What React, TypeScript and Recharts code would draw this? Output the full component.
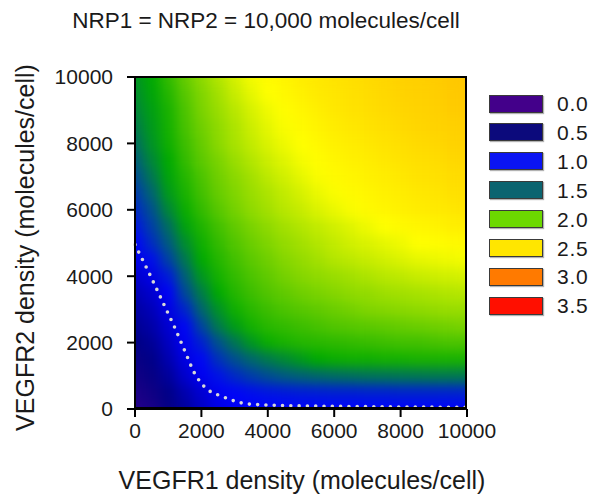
import React from 'react';
import { ScatterChart, Scatter, XAxis, YAxis } from 'recharts';

const chartTitle = 'NRP1 = NRP2 = 10,000 molecules/cell';
const xTitle = 'VEGFR1 density (molecules/cell)';
const yTitle = 'VEGFR2 density (molecules/cell)';

const axisTicks = [0, 2000, 4000, 6000, 8000, 10000];

// grid of the heat map (VEGFR1 on x, VEGFR2 on y)
const gridX = [0, 500, 1000, 1500, 2000, 2500, 3000, 3500, 4000, 4500, 5000, 5500, 6000, 6500, 7000, 7500, 8000, 8500, 9000, 9500, 10000];
const gridY = [10000, 9500, 9000, 8500, 8000, 7500, 7000, 6500, 6000, 5500, 5000, 4500, 4000, 3500, 3000, 2500, 2000, 1500, 1000, 500, 0];

// one row per gridY value
const heatValues = [
  [1.85, 2.0, 2.1, 2.2, 2.28, 2.35, 2.42, 2.48, 2.52, 2.55, 2.58, 2.6, 2.62, 2.64, 2.66, 2.68, 2.7, 2.71, 2.72, 2.74, 2.75],
  [1.8, 1.97, 2.07, 2.17, 2.25, 2.32, 2.39, 2.45, 2.5, 2.53, 2.56, 2.59, 2.61, 2.63, 2.65, 2.67, 2.69, 2.7, 2.71, 2.73, 2.74],
  [1.75, 1.93, 2.05, 2.15, 2.24, 2.3, 2.36, 2.42, 2.47, 2.51, 2.54, 2.57, 2.6, 2.62, 2.64, 2.66, 2.68, 2.69, 2.7, 2.72, 2.73],
  [1.68, 1.9, 2.04, 2.14, 2.22, 2.28, 2.34, 2.4, 2.45, 2.49, 2.52, 2.55, 2.58, 2.6, 2.62, 2.64, 2.66, 2.68, 2.69, 2.7, 2.71],
  [1.6, 1.86, 2.03, 2.12, 2.2, 2.27, 2.33, 2.38, 2.43, 2.47, 2.5, 2.53, 2.56, 2.58, 2.6, 2.62, 2.64, 2.66, 2.67, 2.69, 2.7],
  [1.5, 1.78, 2.0, 2.1, 2.18, 2.24, 2.3, 2.35, 2.4, 2.44, 2.48, 2.51, 2.54, 2.56, 2.58, 2.6, 2.62, 2.64, 2.65, 2.67, 2.68],
  [1.4, 1.68, 1.96, 2.07, 2.15, 2.22, 2.27, 2.32, 2.37, 2.41, 2.45, 2.49, 2.52, 2.54, 2.56, 2.58, 2.6, 2.62, 2.63, 2.65, 2.66],
  [1.3, 1.56, 1.9, 2.05, 2.13, 2.2, 2.25, 2.3, 2.34, 2.38, 2.42, 2.46, 2.49, 2.52, 2.54, 2.56, 2.58, 2.6, 2.61, 2.63, 2.64],
  [1.2, 1.45, 1.78, 2.02, 2.1, 2.17, 2.23, 2.28, 2.32, 2.36, 2.39, 2.43, 2.46, 2.49, 2.52, 2.54, 2.56, 2.58, 2.59, 2.6, 2.62],
  [1.1, 1.35, 1.62, 1.95, 2.06, 2.13, 2.19, 2.24, 2.28, 2.32, 2.35, 2.38, 2.41, 2.44, 2.47, 2.5, 2.52, 2.54, 2.55, 2.57, 2.58],
  [1.0, 1.25, 1.5, 1.82, 2.03, 2.1, 2.16, 2.21, 2.25, 2.29, 2.32, 2.35, 2.38, 2.41, 2.43, 2.45, 2.47, 2.5, 2.51, 2.52, 2.53],
  [0.9, 1.08, 1.36, 1.68, 2.0, 2.07, 2.13, 2.18, 2.22, 2.26, 2.29, 2.32, 2.35, 2.37, 2.39, 2.41, 2.43, 2.45, 2.46, 2.47, 2.48],
  [0.78, 0.9, 1.15, 1.53, 1.88, 2.04, 2.1, 2.15, 2.19, 2.23, 2.26, 2.28, 2.3, 2.32, 2.34, 2.36, 2.37, 2.39, 2.4, 2.41, 2.42],
  [0.7, 0.8, 0.98, 1.4, 1.72, 2.0, 2.07, 2.12, 2.16, 2.19, 2.22, 2.24, 2.26, 2.28, 2.29, 2.31, 2.32, 2.33, 2.34, 2.35, 2.36],
  [0.62, 0.72, 0.9, 1.2, 1.57, 1.85, 2.03, 2.08, 2.12, 2.15, 2.17, 2.19, 2.21, 2.23, 2.25, 2.26, 2.27, 2.28, 2.29, 2.3, 2.3],
  [0.56, 0.65, 0.82, 1.03, 1.38, 1.7, 1.92, 2.04, 2.08, 2.1, 2.12, 2.14, 2.16, 2.17, 2.18, 2.19, 2.2, 2.21, 2.22, 2.23, 2.24],
  [0.5, 0.58, 0.75, 0.95, 1.18, 1.45, 1.67, 1.88, 2.02, 2.05, 2.07, 2.08, 2.09, 2.1, 2.11, 2.12, 2.13, 2.13, 2.14, 2.15, 2.15],
  [0.43, 0.52, 0.68, 0.88, 1.04, 1.27, 1.44, 1.58, 1.7, 1.8, 1.9, 2.0, 2.02, 2.03, 2.03, 2.04, 2.04, 2.05, 2.05, 2.05, 2.05],
  [0.36, 0.45, 0.6, 0.8, 0.95, 1.1, 1.23, 1.34, 1.43, 1.5, 1.55, 1.59, 1.62, 1.64, 1.66, 1.67, 1.68, 1.69, 1.7, 1.7, 1.7],
  [0.28, 0.38, 0.52, 0.68, 0.82, 0.95, 1.03, 1.08, 1.12, 1.14, 1.16, 1.17, 1.18, 1.18, 1.19, 1.19, 1.2, 1.2, 1.2, 1.2, 1.2],
  [0.2, 0.3, 0.45, 0.6, 0.75, 0.88, 0.95, 0.98, 1.0, 1.0, 1.0, 1.0, 1.0, 1.0, 1.0, 1.0, 1.0, 1.0, 1.0, 1.0, 1.0],
];

// white dotted threshold curve
const curveX = [0, 400, 800, 1200, 1500, 1750, 2000, 2300, 2700, 3100, 3500, 4500, 6000, 8000, 10000];
const curveY = [4950, 4150, 3300, 2450, 1750, 1150, 750, 500, 350, 200, 140, 100, 80, 60, 50];

const legendLabels = ['0.0', '0.5', '1.0', '1.5', '2.0', '2.5', '3.0', '3.5'];
const legendColors = ['#43008a', '#0c0a7c', '#0a14f2', '#0b6470', '#6cd800', '#ffe600', '#ff7a00', '#ff0f00'];

// colour scale used by the map itself
const cmapStops = [0, 0.5, 1, 1.5, 2, 2.5, 3, 3.5];
const cmapColors = ['#40008c', '#000082', '#0000ff', '#005a80', '#00aa00', '#ffff00', '#ff8c00', '#ff0000'];

const W = 590;
const H = 494;
const margin = { top: 77, right: 123, bottom: 55, left: 55 };
const Y_AXIS_W = 80;
const X_AXIS_H = 30;
const PLOT_X = margin.left + Y_AXIS_W;
const PLOT_Y = margin.top;
const PLOT_W = W - margin.left - margin.right - Y_AXIS_W;
const PLOT_H = H - margin.top - margin.bottom - X_AXIS_H;
const CELL_W = PLOT_W / (gridX.length - 1);
const CELL_H = PLOT_H / (gridY.length - 1);

const hex = (c: string) => [1, 3, 5].map((i) => parseInt(c.slice(i, i + 2), 16));

function colorFor(v: number) {
  let i = 0;
  while (i < cmapStops.length - 2 && v > cmapStops[i + 1]) i++;
  const t = Math.max(0, Math.min(1, (v - cmapStops[i]) / (cmapStops[i + 1] - cmapStops[i])));
  const a = hex(cmapColors[i]);
  const b = hex(cmapColors[i + 1]);
  const c = a.map((x, k) => Math.round(x + (b[k] - x) * t));
  return `rgb(${c[0]},${c[1]},${c[2]})`;
}

const heatData = gridY.flatMap((y, r) => gridX.map((x, c) => ({ x, y, v: heatValues[r][c] })));
const curveData = curveX.map((x, i) => ({ x, y: curveY[i] }));

const xMin = gridX[0];
const xMax = gridX[gridX.length - 1];
const yMin = gridY[gridY.length - 1];
const yMax = gridY[0];

function HeatCell(props: any) {
  const { cx, cy, payload } = props;
  const l = payload.x === xMin ? 0 : CELL_W / 2;
  const r = payload.x === xMax ? 0 : CELL_W / 2 + 0.5;
  const t = payload.y === yMax ? 0 : CELL_H / 2;
  const b = payload.y === yMin ? 0 : CELL_H / 2 + 0.5;
  return <rect className="heat-cell" x={cx - l} y={cy - t} width={l + r} height={t + b} fill={colorFor(payload.v)} />;
}

const font = '"Liberation Sans", Arial, sans-serif';
const tickStyle = { fontSize: 21, fill: '#1a1a1a', fontFamily: font };

export default function App() {
  return (
    <div style={{ position: 'absolute', left: 0, top: 0, width: W, height: H, background: '#fff', fontFamily: font, color: '#1a1a1a' }}>
      <style>{`.recharts-scatter:has(.heat-cell){filter:url(#heatSmooth);}`}</style>
      <svg width={0} height={0} style={{ position: 'absolute' }}>
        <defs>
          <filter id="heatSmooth" x="0" y="0" width="1" height="1" colorInterpolationFilters="sRGB">
            <feGaussianBlur stdDeviation="6" />
            <feComponentTransfer>
              <feFuncA type="linear" slope="60" intercept="0" />
            </feComponentTransfer>
          </filter>
        </defs>
      </svg>
      <div style={{ position: 'absolute', left: 0, top: 10, width: 532, textAlign: 'center', fontSize: 22.5, lineHeight: '22px', whiteSpace: 'nowrap' }}>
        {chartTitle}
      </div>
      <ScatterChart width={W} height={H} margin={margin}>
        <XAxis
          type="number"
          dataKey="x"
          domain={[0, 10000]}
          ticks={axisTicks}
          height={X_AXIS_H}
          tickSize={8}
          tickMargin={6}
          tick={tickStyle}
          axisLine={{ stroke: '#000', strokeWidth: 2 }}
          tickLine={{ stroke: '#000', strokeWidth: 2 }}
        />
        <YAxis
          type="number"
          dataKey="y"
          domain={[0, 10000]}
          ticks={axisTicks}
          width={Y_AXIS_W}
          tickSize={8}
          tickMargin={14}
          tick={tickStyle}
          axisLine={{ stroke: '#000', strokeWidth: 2 }}
          tickLine={{ stroke: '#000', strokeWidth: 2 }}
        />
        <Scatter data={heatData} shape={HeatCell} isAnimationActive={false} legendType="none" />
        <Scatter
          data={curveData}
          shape={() => <g />}
          line={{ stroke: '#d8d8d8', strokeWidth: 3.6, strokeDasharray: '0 8.3', strokeLinecap: 'round' }}
          lineType="joint"
          isAnimationActive={false}
          legendType="none"
        />
      </ScatterChart>
      {/* frame around the plot area, kept above the smoothed map */}
      <div
        style={{
          position: 'absolute',
          left: PLOT_X - 1.25,
          top: PLOT_Y - 1.25,
          width: PLOT_W - 2.5,
          height: PLOT_H - 2.5,
          border: '2.5px solid #000',
          pointerEvents: 'none',
        }}
      />
      <div style={{ position: 'absolute', left: 0, top: 468, width: 604, textAlign: 'center', fontSize: 25, lineHeight: '25px', whiteSpace: 'nowrap' }}>
        {xTitle}
      </div>
      <div
        style={{
          position: 'absolute',
          left: 25 - 200,
          top: 247 - 12.5,
          width: 400,
          textAlign: 'center',
          fontSize: 25,
          lineHeight: '25px',
          whiteSpace: 'nowrap',
          transform: 'rotate(-90deg)',
        }}
      >
        {yTitle}
      </div>
      {legendLabels.map((lab, i) => (
        <div key={lab} style={{ position: 'absolute', left: 489, top: 95 + i * 28.9, height: 17, display: 'flex', alignItems: 'center' }}>
          <div style={{ width: 52, height: 16, background: legendColors[i], border: '1px solid #3a3a3a', boxShadow: '1px 1px 1px rgba(0,0,0,0.3)' }} />
          <span style={{ marginLeft: 14, fontSize: 21, lineHeight: '17px', letterSpacing: 0.8 }}>{lab}</span>
        </div>
      ))}
    </div>
  );
}
